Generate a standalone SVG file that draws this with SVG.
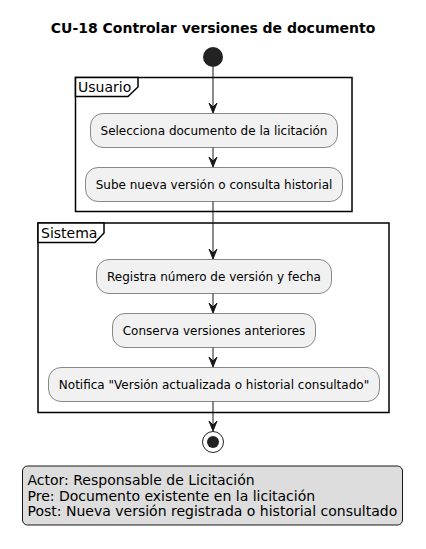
<svg xmlns="http://www.w3.org/2000/svg" width="426" height="549" viewBox="0 0 426 549">
<style>
text{font-family:"DejaVu Sans","Noto Sans",sans-serif;fill:#000}
.title{font-size:14px;font-weight:bold}
.act rect{fill:#F1F1F1;stroke:#181818;stroke-width:0.5}
.act text{font-size:12px;text-anchor:middle}
.frame{fill:none;stroke:#000;stroke-width:1.5}
.tab{fill:#fff;stroke:#000;stroke-width:1.5}
.ftext{font-size:14px}
.conn line{stroke:#181818;stroke-width:1}
.conn polygon{fill:#181818;stroke:#181818;stroke-width:1}
.note rect{fill:#DDDDDD;stroke:#181818;stroke-width:1}
.note text{font-size:14px}
</style>
<rect width="426" height="549" fill="#fff"/>
<text class="title" x="213" y="33" text-anchor="middle">CU-18 Controlar versiones de documento</text>

<g id="start"><circle cx="213" cy="57" r="10" fill="#222"/></g>

<g id="frame-usuario">
<rect class="frame" x="75.5" y="77.5" width="276.5" height="134"/>
<path class="tab" d="M75.5,77.5 H138 V87 L128,96.5 H75.5 Z"/>
<text class="ftext" x="78" y="92">Usuario</text>
</g>

<g id="frame-sistema">
<rect class="frame" x="38" y="223" width="351" height="189.5"/>
<path class="tab" d="M38,223 H104 V233 L95,242.5 H38 Z"/>
<text class="ftext" x="41" y="238">Sistema</text>
</g>

<g id="a1" class="act"><rect x="90.5" y="113.5" width="247" height="34" rx="12.5"/><text x="214" y="134.5">Selecciona documento de la licitación</text></g>
<g id="a2" class="act"><rect x="85.5" y="167.5" width="257" height="34" rx="12.5"/><text x="214" y="188.5">Sube nueva versión o consulta historial</text></g>
<g id="a3" class="act"><rect x="96.5" y="259.5" width="235" height="34" rx="12.5"/><text x="214" y="280.5">Registra número de versión y fecha</text></g>
<g id="a4" class="act"><rect x="112.5" y="313.5" width="203" height="34" rx="12.5"/><text x="214" y="334.5">Conserva versiones anteriores</text></g>
<g id="a5" class="act"><rect x="48.5" y="367.5" width="331" height="34" rx="12.5"/><text x="214" y="388.5">Notifica "Versión actualizada o historial consultado"</text></g>

<g id="end"><circle cx="213" cy="442" r="10.5" fill="none" stroke="#222" stroke-width="1"/><circle cx="213" cy="442" r="6" fill="#222"/></g>

<g id="connectors" class="conn">
<line x1="213" y1="67" x2="213" y2="112"/><polygon points="209,103 213,113 217,103 213,107"/>
<line x1="213" y1="147.5" x2="213" y2="166"/><polygon points="209,157 213,167 217,157 213,161"/>
<line x1="213" y1="201.5" x2="213" y2="258"/><polygon points="209,249 213,259 217,249 213,253"/>
<line x1="213" y1="293.5" x2="213" y2="312"/><polygon points="209,303 213,313 217,303 213,307"/>
<line x1="213" y1="347.5" x2="213" y2="366"/><polygon points="209,357 213,367 217,357 213,361"/>
<line x1="213" y1="401.5" x2="213" y2="430"/><polygon points="209,421 213,431 217,421 213,425"/>
</g>

<g id="note" class="note">
<rect x="22.5" y="466" width="380" height="59" rx="5"/>
<text x="27.5" y="485">Actor: Responsable de Licitación</text>
<text x="27.5" y="500.5">Pre: Documento existente en la licitación</text>
<text x="27.5" y="516">Post: Nueva versión registrada o historial consultado</text>
</g>
</svg>
